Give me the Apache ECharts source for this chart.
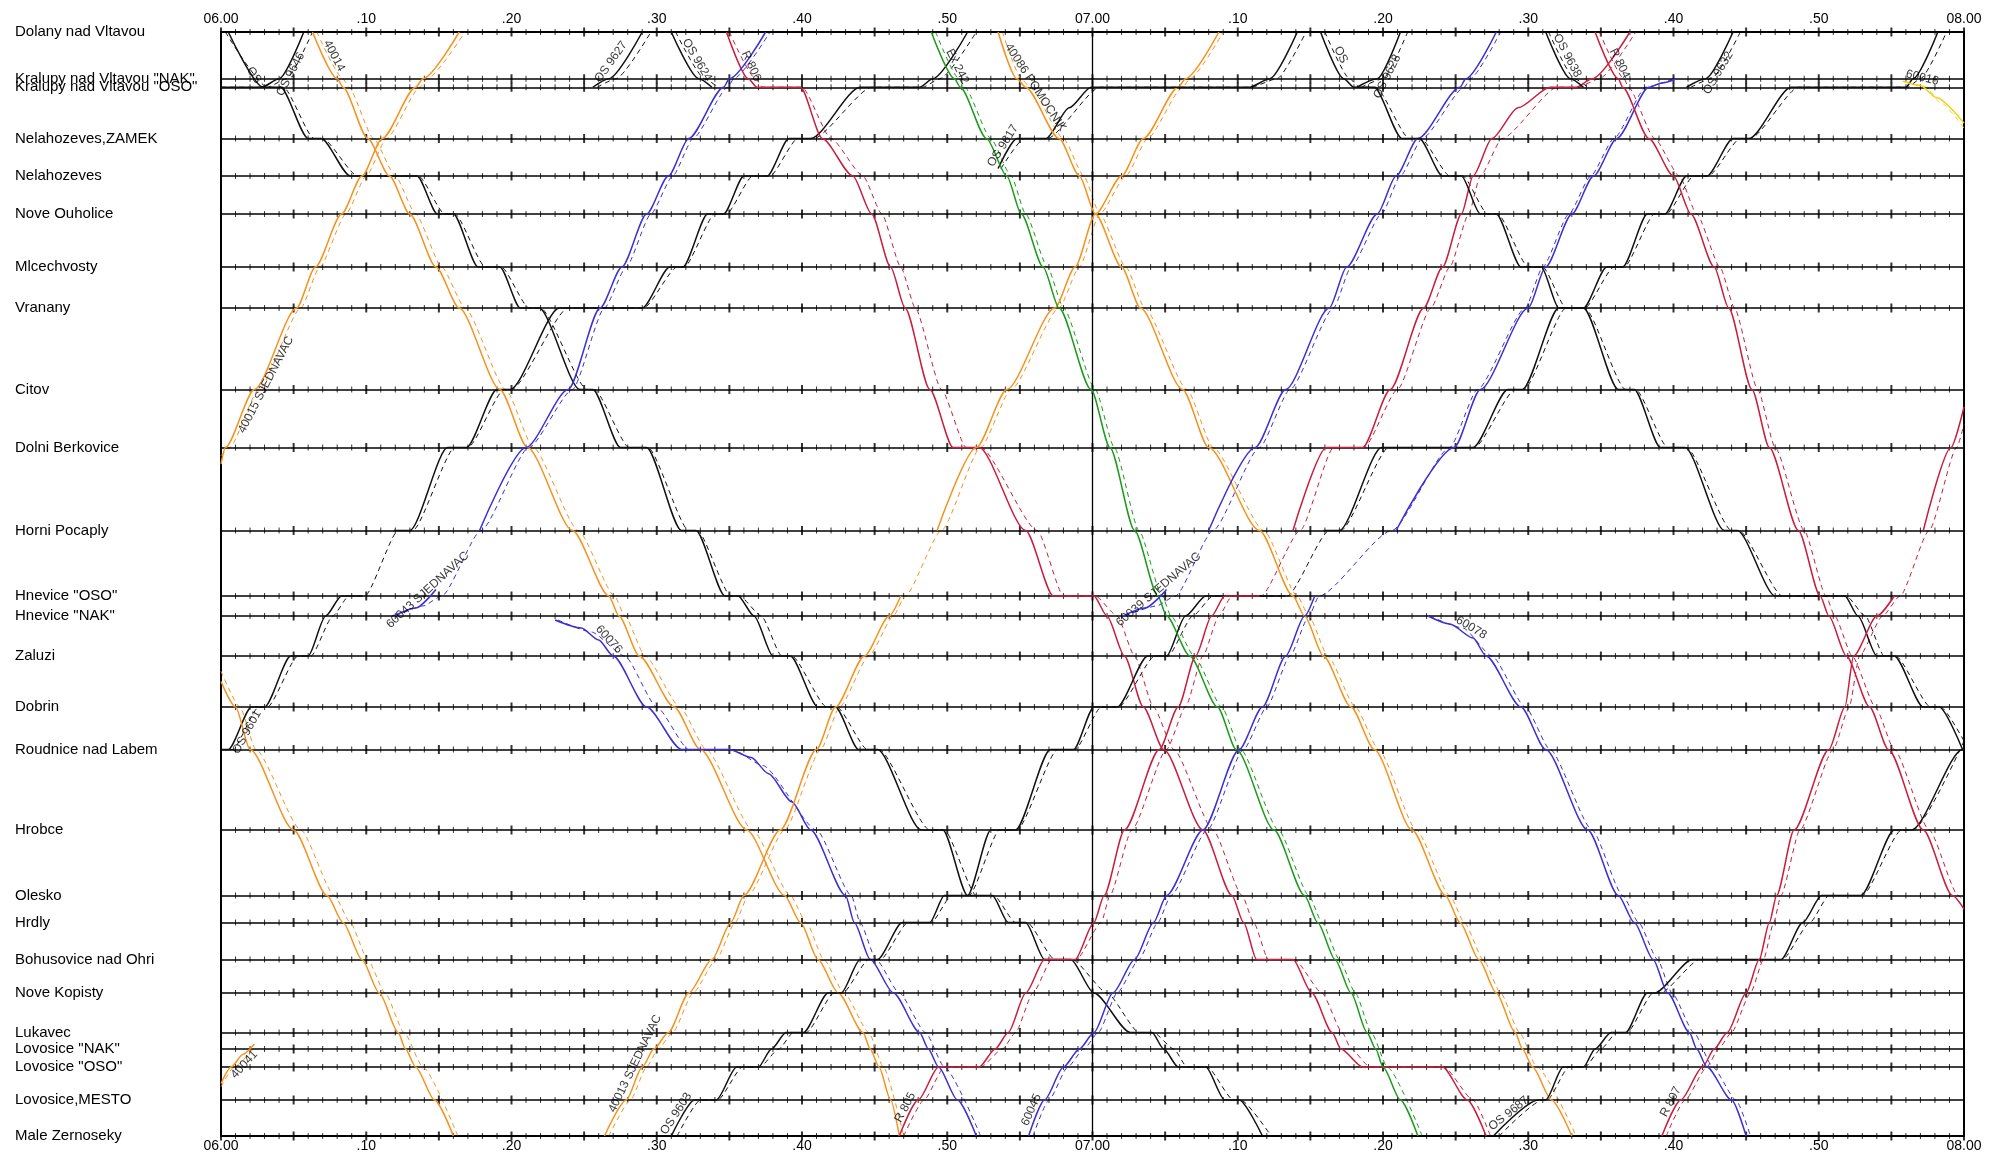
<!DOCTYPE html>
<html>
<head>
<meta charset="utf-8">
<script src="https://cdn.jsdelivr.net/npm/echarts@6/dist/echarts.min.js"></script>
<style>
  html, body { margin: 0; padding: 0; background: #fff; }
  #chart { width: 1989px; height: 1154px; }
</style>
</head>
<body>
<div id="chart"></div>
<script>
// stations top -> bottom, with their relative distance (km) along the line
var stations = ['Dolany nad Vltavou', 'Kralupy nad Vltavou "NAK"', 'Kralupy nad Vltavou "OSO"', 'Nelahozeves,ZAMEK',
  'Nelahozeves', 'Nove Ouholice', 'Mlcechvosty', 'Vranany', 'Citov', 'Dolni Berkovice', 'Horni Pocaply',
  'Hnevice "OSO"', 'Hnevice "NAK"', 'Zaluzi', 'Dobrin', 'Roudnice nad Labem', 'Hrobce', 'Olesko', 'Hrdly',
  'Bohusovice nad Ohri', 'Nove Kopisty', 'Lukavec', 'Lovosice "NAK"', 'Lovosice "OSO"', 'Lovosice,MESTO', 'Male Zernoseky'];
var stationKm = [0, 1.87, 2.21, 4.26, 5.76, 7.28, 9.4, 11.04, 14.3, 16.62, 19.94, 22.56, 23.36, 24.96, 27.0,
  28.7, 31.92, 34.54, 35.62, 37.1, 38.44, 40.02, 40.68, 41.4, 42.72, 44.16];

// minutes after 06:00
var timeTicks = [0, 10, 20, 30, 40, 50, 60, 70, 80, 90, 100, 110, 120];
var timeTickLabels = ['06.00', '.10', '.20', '.30', '.40', '.50', '07.00', '.10', '.20', '.30', '.40', '.50', '08.00'];

// trains: points are [minute, station index]; act = actual run (segments), plan = planned run
var os9600Act = [[[0.5,0],[2.9,2],[4.1,2],[6.0,3],[6.9,3],[8.9,4],[13.5,4],[14.9,5],[16.0,5],[17.7,6],[19.2,6],[20.6,7],[21.9,7],[24.7,8],[25.6,8],[27.5,9],[29.3,9],[31.7,10],[32.7,10],[34.7,11],[35.6,11],[36.7,12],[38.0,13],[39.2,13],[41.1,14],[42.3,14],[43.9,15],[45.2,15],[48.2,16],[49.7,16],[51.4,17],[53.1,17],[54.2,18],[55.4,18],[56.7,19],[58.5,19],[60.1,20],[62.6,21],[64.1,21],[64.9,22],[65.9,23],[67.8,23],[69.1,24],[70.1,24],[71.7,25]]];
var os9600Plan = [[0.3,0],[3.2,2],[4.3,2],[6.4,3],[7.0,3],[9.4,4],[13.6,4],[15.4,5],[16.1,5],[18.2,6],[19.3,6],[21.2,7],[22.0,7],[25.2,8],[25.7,8],[28.1,9],[29.4,9],[32.2,10],[32.8,10],[35.1,11],[35.7,11],[37.2,12],[38.6,13],[39.3,13],[41.7,14],[42.4,14],[44.5,15],[45.3,15],[48.8,16],[49.8,16],[52.0,17],[53.2,17],[54.7,18],[55.5,18],[57.4,19],[58.6,19],[61.0,20],[63.2,21],[64.2,21],[65.6,22],[66.5,23],[67.9,23],[69.7,24],[70.2,24],[72.3,25]];

var os9646Act = [[[0,2],[2.8,2],[4.0,1],[5.7,0]]];
var os9646Plan = [[0,2],[3.2,2],[4.5,1],[6.3,0]];

var os9601Act = [[[0,15],[0.5,15],[2.1,14],[3.0,14],[4.8,13],[6.0,13],[7.2,12],[8.3,11],[9.7,11]],
  [[11.9,10],[13.0,10],[15.6,9],[16.9,9],[19.0,8],[19.9,8],[23.3,7],[29.0,7],[30.9,6],[31.8,6],[33.5,5],[34.6,5],[36.0,4],[37.6,4],[39.1,3],[40.6,3],[44.0,2],[48.1,2],[49.0,1],[51.4,0]]];
var os9601Plan = [[0,15],[0.8,15],[2.6,14],[3.2,14],[5.3,13],[6.2,13],[7.7,12],[8.8,11],[9.9,11],[12.2,10],[13.2,10],[16.1,9],[17.0,9],[19.5,8],[20.0,8],[23.9,7],[29.1,7],[31.4,6],[31.9,6],[34.0,5],[34.8,5],[36.6,4],[37.8,4],[39.7,3],[40.8,3],[44.8,2],[48.3,2],[49.5,1],[52.0,0]];

var os9627Act = [[[25.6,2],[26.7,1],[29.0,0]]];
var os9627Plan = [[25.9,2],[27.2,1],[29.6,0]];
var os9624Act = [[[31.0,0],[32.9,1],[33.8,2]]];
var os9624Plan = [[31.3,0],[33.3,1],[34.2,2]];

var r806Act = [[[34.8,0],[36.3,1],[36.9,2],[39.9,2],[41.4,3],[43.5,4],[44.8,5],[46.1,6],[47.1,7],[48.8,8],[50.4,9],[52.2,9],[55.4,10],[57.3,11],[60.1,11],[61.0,12],[62.2,13],[63.5,14],[64.9,15],[67.6,16],[69.6,17],[70.4,18],[71.3,19],[73.8,19],[75.1,20],[76.5,21],[77.1,22],[78.6,23],[84.1,23],[85.8,24],[87.1,25]]];
var r806Plan = [[35.0,0],[36.8,1],[37.3,2],[40.0,2],[42.0,3],[44.2,4],[45.5,5],[46.8,6],[47.8,7],[49.6,8],[51.3,9],[52.3,9],[56.2,10],[58.0,11],[60.2,11],[61.7,12],[62.9,13],[64.2,14],[65.6,15],[68.3,16],[70.3,17],[71.1,18],[72.1,19],[73.9,19],[75.8,20],[77.2,21],[77.8,22],[79.1,23],[84.2,23],[86.2,24],[87.4,25]];

var n40014Act = [[[6.3,0],[8.0,1],[8.4,2],[10.1,3],[11.6,4],[13.0,5],[14.8,6],[16.4,7],[19.2,8],[21.1,9],[24.2,10],[26.7,11],[27.4,12],[28.8,13],[31.2,14],[33.0,15],[36.2,16],[38.8,17],[39.9,18],[41.1,19],[42.5,20],[44.2,21],[44.7,22],[45.3,23],[46.1,24],[46.7,25]]];
var n40014Plan = [[6.6,0],[8.4,1],[8.8,2],[10.5,3],[12.0,4],[13.4,5],[15.2,6],[16.8,7],[19.6,8],[21.5,9],[24.6,10],[27.1,11],[27.8,12],[29.2,13],[31.6,14],[33.4,15],[36.6,16],[39.2,17],[40.3,18],[41.5,19],[42.9,20],[44.6,21],[45.6,23],[47.0,25]];

var n40015Act = [[[0,9.2],[0.3,9],[2.3,8],[5.2,7],[6.5,6],[8.3,5],[9.7,4],[11.1,3],[13.4,2],[13.9,1],[16.4,0]]];
var n40015Plan = [[0,9.1],[0.6,9],[2.6,8],[5.5,7],[6.8,6],[8.6,5],[10.0,4],[11.4,3],[13.7,2],[14.2,1],[16.8,0]];

var n60043Act = [[[11.9,12],[13.4,11.6],[14.8,10.9]],
  [[17.8,10],[21.0,9],[23.9,8],[26.1,7],[27.6,6],[29.3,5],[30.8,4],[32.2,3],[34.6,2],[35.0,1],[37.5,0]]];
var n60043Plan = [[12.0,12],[13.9,11.5],[15.2,11],[17.9,10],[21.2,9],[24.2,8],[26.4,7],[27.9,6],[29.6,5],[31.1,4],[32.5,3],[34.9,2],[35.3,1],[37.8,0]];

var n60076Act = [[[23.0,12.1],[24.8,12.3],[26.0,12.6],[27.0,13],[29.3,14],[31.7,15],[35.0,15],[36.5,15.1],[37.7,15.3],[39.3,15.65],[40.6,16],[43.0,17],[43.6,18],[44.7,19],[46.3,20],[48.1,21],[48.7,22],[49.4,23],[50.7,24],[52.0,25]]];
var n60076Plan = [[23.2,12.1],[25.5,12.4],[27.8,13],[30.0,14],[32.2,15],[35.2,15],[37.3,15.2],[41.0,16],[43.4,17],[44.0,18],[45.1,19],[46.7,20],[48.5,21],[49.8,23],[52.3,25]];

var n40041Act = [[[0,23.5],[0.7,23],[1.5,22.3],[2.3,21.7]]];
var n40041Plan = [[0,23.6],[0.9,23],[2.4,21.8]];

var n40012Act = [[[0,13.5],[1.0,14],[2.0,15],[5.0,16],[7.3,17],[8.4,18],[9.7,19],[10.9,20],[12.2,21],[12.7,22],[13.4,23],[14.7,24],[16.0,25]]];
var n40012Plan = [[0,13.3],[1.3,14],[2.4,15],[5.5,16],[7.8,17],[8.9,18],[10.1,19],[11.3,20],[12.6,21],[13.9,23],[16.3,25]];

var n40013Act = [[[26.4,25],[27.9,24],[29.0,23],[29.8,22],[30.8,21],[32.2,20],[33.8,19],[35.1,18],[36.0,17],[38.5,16],[41.0,15],[42.3,14],[44.3,13],[46.0,12],[46.8,11]],
  [[49.3,10],[52.0,9],[54.1,8],[57.4,7],[58.8,6],[60.2,5],[62.0,4],[63.5,3],[65.9,2],[66.4,1],[68.7,0]]];
var n40013Plan = [[26.7,25],[28.2,24],[29.3,23],[30.1,22],[31.1,21],[32.5,20],[34.1,19],[35.4,18],[36.3,17],[38.8,16],[41.3,15],[42.6,14],[44.6,13],[46.3,12],[47.1,11],[49.6,10],[52.3,9],[54.4,8],[57.7,7],[59.1,6],[60.5,5],[62.3,4],[63.8,3],[66.2,2],[66.7,1],[69.0,0]];

var os9603Act = [[[31.0,25],[32.6,24],[34.1,24],[35.5,23],[37.0,23],[37.9,22],[38.9,21],[40.1,21],[41.8,20],[42.7,20],[44.0,19],[45.2,19],[46.9,18],[48.8,18],[49.8,17],[51.4,17],[53.0,16],[54.7,16],[57.1,15],[58.7,15],[60.1,14],[61.7,14],[63.8,13],[65.1,13],[66.4,12],[67.8,11],[73.3,11]],
  [[75.9,10],[77.0,10],[79.9,9],[86.2,9],[88.6,8],[89.6,8],[92.1,7],[93.8,7],[95.4,6],[96.5,6],[98.2,5],[99.4,5],[100.9,4],[102.3,4],[104.1,3],[105.2,3],[108.1,2],[116.0,2],[116.5,1],[118.2,0]]];
var os9603Plan = [[31.4,25],[33.0,24],[34.2,24],[35.9,23],[37.1,23],[38.4,22],[39.4,21],[40.3,21],[42.2,20],[42.8,20],[44.6,19],[45.4,19],[47.3,18],[48.9,18],[50.3,17],[51.5,17],[53.6,16],[54.8,16],[57.6,15],[58.8,15],[60.6,14],[61.8,14],[64.3,13],[65.2,13],[66.9,12],[68.3,11],[73.4,11],[76.3,10],[77.1,10],[80.4,9],[86.3,9],[89.1,8],[89.7,8],[92.6,7],[93.9,7],[95.9,6],[96.6,6],[98.7,5],[99.5,5],[101.4,4],[102.4,4],[104.6,3],[105.3,3],[108.6,2],[116.1,2],[117.0,1],[118.8,0]];

var os9617Act = [[[53.5,3.8],[54.8,3],[56.8,3],[58.4,2.4],[59.9,2],[70.8,2],[72.2,1],[74.1,0]]];
var os9617Plan = [[53.7,3.8],[55.3,3],[56.9,3],[60.5,2],[70.9,2],[72.7,1],[74.7,0]];

var ex242Act = [[[48.9,0],[50.5,1],[50.9,2],[52.7,3],[54.1,4],[55.1,5],[56.6,6],[57.7,7],[59.9,8],[61.2,9],[62.9,10],[64.5,11],[65.1,12],[66.7,13],[68.6,14],[69.9,15],[72.5,16],[74.6,17],[75.5,18],[76.7,19],[77.8,20],[78.9,21],[79.5,22],[80.0,23],[81.2,24],[82.4,25]]];
var ex242Plan = [[49.2,0],[50.8,1],[51.2,2],[53.0,3],[54.4,4],[55.4,5],[56.9,6],[58.0,7],[60.2,8],[61.5,9],[63.2,10],[64.8,11],[65.4,12],[67.0,13],[68.9,14],[70.2,15],[72.8,16],[74.9,17],[75.8,18],[77.0,19],[78.1,20],[79.2,21],[80.3,23],[82.7,25]];

var n40086Act = [[[53.5,0],[54.8,1],[55.4,2],[57.7,3],[59.1,4],[60.2,5],[62.0,6],[63.3,7],[66.2,8],[68.0,9],[71.5,10],[73.8,11],[74.6,12],[75.9,13],[77.8,14],[79.4,15],[82.0,16],[84.3,17],[85.3,18],[86.6,19],[87.8,20],[89.1,21],[89.6,22],[90.3,23],[91.6,24],[93.0,25]]];
var n40086Plan = [[53.8,0],[55.1,1],[55.7,2],[58.0,3],[59.4,4],[60.5,5],[62.3,6],[63.6,7],[66.5,8],[68.3,9],[71.8,10],[74.1,11],[74.9,12],[76.2,13],[78.1,14],[79.7,15],[82.3,16],[84.6,17],[85.6,18],[86.9,19],[88.1,20],[89.4,21],[90.6,23],[93.3,25]];

var r805Act = [[[46.7,25],[48.0,24],[49.4,23],[52.2,23],[53.3,22],[54.2,21],[55.4,20],[56.7,19],[58.8,19],[60.1,18],[60.8,17],[62.2,16],[64.6,15],[65.9,14],[67.1,13],[68.2,12],[69.1,11],[71.5,11]],
  [[73.8,10],[76.1,9],[78.6,9],[80.5,8],[82.8,7],[84.1,6],[85.4,5],[86.2,4],[87.5,3],[89.3,2.4],[91.5,2],[93.3,2],[94.4,1],[97.0,0]]];
var r805Plan = [[47.0,25],[48.4,24],[49.8,23],[52.3,23],[53.8,22],[54.7,21],[55.9,20],[57.2,19],[58.9,19],[60.6,18],[61.2,17],[62.7,16],[65.1,15],[66.4,14],[67.6,13],[68.7,12],[69.6,11],[71.6,11],[74.3,10],[76.6,9],[78.7,9],[81.0,8],[83.3,7],[84.6,6],[85.9,5],[86.7,4],[88.2,3],[92.0,2],[93.4,2],[94.9,1],[97.4,0]];

var n60045Act = [[[55.6,25],[56.7,24],[58.0,23],[59.1,22],[60.1,21],[61.4,20],[62.9,19],[64.2,18],[65.1,17],[67.6,16],[70.1,15],[71.7,14],[73.3,13],[74.6,12],[75.3,11]],
  [[80.9,10],[84.9,9],[86.7,8],[90.0,7],[91.2,6],[93.0,5],[94.5,4],[96.1,3],[98.3,2],[99.2,1.5],[100.2,1]]];
var n60045Plan = [[55.9,25],[57.0,24],[58.3,23],[59.4,22],[60.4,21],[61.7,20],[63.2,19],[64.5,18],[65.4,17],[67.9,16],[70.4,15],[72.0,14],[73.6,13],[74.9,12],[75.6,11],[80.6,10],[84.6,9],[86.5,8],[89.8,7],[91.0,6],[92.8,5],[94.3,4],[95.9,3],[98.1,2],[100.0,1]];

var n60039Act = [[[62.1,12],[63.6,11.6],[65.1,10.9]],
  [[68.0,10],[71.2,9],[73.3,8],[76.3,7],[77.5,6],[79.6,5],[80.9,4],[82.4,3],[85.3,2],[85.7,1],[87.8,0]]];
var n60039Plan = [[62.2,12],[64.4,11.5],[65.7,11],[68.3,10],[71.5,9],[73.6,8],[76.6,7],[77.8,6],[79.9,5],[81.2,4],[82.7,3],[85.6,2],[86.0,1],[88.1,0]];

var os9626Act = [[[75.7,0],[77.3,1],[78.0,2],[79.4,2],[81.3,3],[82.5,3],[84.1,4],[85.4,4],[86.7,5],[87.8,5],[89.5,6],[90.9,6],[92.1,7],[93.8,7],[96.2,8],[97.3,8],[99.1,9],[100.8,9],[103.5,10],[104.4,10],[107.0,11],[111.8,11],[112.7,12],[114.0,13],[115.2,13],[117.2,14],[118.3,14],[119.9,15]]];
var os9626Plan = [[76.0,0],[77.7,1],[78.4,2],[79.5,2],[81.8,3],[82.6,3],[84.6,4],[85.5,4],[87.2,5],[87.9,5],[90.0,6],[91.0,6],[92.6,7],[93.9,7],[96.7,8],[97.4,8],[99.6,9],[100.9,9],[104.0,10],[104.5,10],[107.5,11],[111.9,11],[113.2,12],[114.5,13],[115.3,13],[117.7,14],[118.4,14],[120,14.8]];

var os9628Act = [[[78.2,2],[79.6,1],[81.2,0]]];
var os9628Plan = [[78.5,2],[80.0,1],[81.7,0]];
var os9638Act = [[[91.2,0],[92.9,1],[93.8,2]]];
var os9638Plan = [[91.4,0],[93.2,1],[94.1,2]];
var os9632Act = [[[100.9,2],[102.2,1],[104.1,0]]];
var os9632Plan = [[101.2,2],[102.6,1],[104.6,0]];

var os9687Act = [[[87.6,25],[90.7,24],[91.2,24],[92.4,23],[93.8,23],[94.6,22],[95.7,21],[96.7,21],[98.2,20],[98.7,20],[101.3,19],[107.4,19],[108.9,18],[110.2,17],[112.9,17],[115.2,16],[116.4,16],[119.9,15],[120,15]]];
var os9687Plan = [[88.0,25],[91.0,24],[91.3,24],[92.8,23],[93.9,23],[95.0,22],[96.1,21],[96.8,21],[98.6,20],[99.1,20],[101.8,19],[107.5,19],[109.4,18],[110.7,17],[113.0,17],[115.7,16],[116.5,16],[120,14.8]];

var r804Act = [[[94.6,0],[96.2,1],[96.5,2],[98.3,3],[100.0,4],[101.2,5],[102.8,6],[103.8,7],[105.4,8],[106.6,9],[108.6,10],[110.1,11],[110.7,12],[111.9,13],[113.5,14],[114.8,15],[117.2,16],[119.2,17],[120,17.5]]];
var r804Plan = [[94.9,0],[96.6,1],[96.9,2],[98.7,3],[100.4,4],[101.6,5],[103.2,6],[104.2,7],[105.8,8],[107.0,9],[109.0,10],[110.5,11],[111.1,12],[112.3,13],[113.9,14],[115.2,15],[117.6,16],[119.6,17],[120,17.2]];

var r807Act = [[[99.2,25],[100.5,24],[102.0,23],[102.8,22],[103.7,21],[105.0,20],[105.9,19],[106.6,18],[107.1,17],[108.3,16],[110.7,15],[111.8,14],[112.4,13],[114.0,12],[115.2,11]],
  [[117.2,10],[119.1,9],[120,8.3]]];
var r807Plan = [[99.5,25],[100.8,24],[102.3,23],[103.1,22],[104.0,21],[105.3,20],[106.2,19],[106.9,18],[107.4,17],[108.7,16],[111.0,15],[112.1,14],[112.8,13],[114.4,12],[115.6,11],[117.6,10],[119.5,9],[120,8.6]];

var n60016Act = [[[115.8,1.3],[117.0,1.8],[118.1,2.2],[120,2.7]]];
var n60016Plan = [[116.0,1.3],[117.3,1.9],[118.4,2.3],[120,2.8]];

var n60078Act = [[[83.1,12],[84.6,12.2],[86.2,12.55],[87.1,13],[89.5,14],[91.2,15],[94.1,16],[96.2,17],[97.3,18],[98.6,19],[99.6,20],[101.1,21],[101.6,22],[102.3,23],[104.0,24],[105.0,25]]];
var n60078Plan = [[83.2,12],[85.5,12.3],[87.5,13],[89.8,14],[91.5,15],[94.4,16],[96.5,17],[97.6,18],[98.9,19],[99.9,20],[101.4,21],[102.7,23],[104.3,24],[105.3,25]];

var colors = { black: '#111111', orange: '#f5921e', blue: '#3b2fd3', red: '#c81e3c', green: '#1c9a1c', yellow: '#f0d21c' };

// train table: label text, colour, data, time of label anchor, flip = label on other side
var trains = [
  { text: 'OS', color: 'black', act: os9600Act, plan: os9600Plan, at: 1.8 },
  { text: 'OS 9646', color: 'black', act: os9646Act, plan: os9646Plan, at: 4.3 },
  { text: 'OS 9601', color: 'black', act: os9601Act, plan: os9601Plan, at: 1.3 },
  { text: 'OS 9627', color: 'black', act: os9627Act, plan: os9627Plan, at: 27.3, flip: true },
  { text: 'OS 9624', color: 'black', act: os9624Act, plan: os9624Plan, at: 32.3 },
  { text: 'R 806', color: 'red', act: r806Act, plan: r806Plan, at: 36.0 },
  { text: '40014', color: 'orange', act: n40014Act, plan: n40014Plan, at: 7.3 },
  { text: '40015 SJEDNAVAC', color: 'orange', act: n40015Act, plan: n40015Plan, at: 2.6 },
  { text: '60043 SJEDNAVAC', color: 'blue', act: n60043Act, plan: n60043Plan, at: 14.6, flip: true },
  { text: '60076', color: 'blue', act: n60076Act, plan: n60076Plan, at: 26.3 },
  { text: '40041', color: 'orange', act: n40041Act, plan: n40041Plan, at: 1.2 },
  { text: '', color: 'orange', act: n40012Act, plan: n40012Plan },
  { text: '40013 SJEDNAVAC', color: 'orange', act: n40013Act, plan: n40013Plan, at: 29.0, flip: true },
  { text: 'OS 9603', color: 'black', act: os9603Act, plan: os9603Plan, at: 31.8, flip: true },
  { text: 'OS 9617', color: 'black', act: os9617Act, plan: os9617Plan, at: 54.3, flip: true },
  { text: 'Ex 242', color: 'green', act: ex242Act, plan: ex242Plan, at: 50.2 },
  { text: '40086 POMOCNIK', color: 'orange', act: n40086Act, plan: n40086Plan, at: 55.6 },
  { text: 'R 805', color: 'red', act: r805Act, plan: r805Plan, at: 47.6, flip: true },
  { text: '60045', color: 'blue', act: n60045Act, plan: n60045Plan, at: 56.3, flip: true },
  { text: '60039 SJEDNAVAC', color: 'blue', act: n60039Act, plan: n60039Plan, at: 64.9, flip: true },
  { text: 'OS', color: 'black', act: os9626Act, plan: os9626Plan, at: 76.6 },
  { text: 'OS 9628', color: 'black', act: os9628Act, plan: os9628Plan, at: 79.8 },
  { text: 'OS 9638', color: 'black', act: os9638Act, plan: os9638Plan, at: 92.2 },
  { text: 'OS 9632', color: 'black', act: os9632Act, plan: os9632Plan, at: 102.6 },
  { text: 'OS 9687', color: 'black', act: os9687Act, plan: os9687Plan, at: 89.0, flip: true },
  { text: 'R 804', color: 'red', act: r804Act, plan: r804Plan, at: 95.8 },
  { text: 'R 807', color: 'red', act: r807Act, plan: r807Plan, at: 100.3, flip: true },
  { text: '60016', color: 'yellow', act: n60016Act, plan: n60016Plan, at: 117.0 },
  { text: '60078', color: 'blue', act: n60078Act, plan: n60078Plan, at: 85.8 }
];

function km(idx) {
  var i = Math.floor(idx), f = idx - i;
  if (i >= stationKm.length - 1) return stationKm[stationKm.length - 1];
  return stationKm[i] + f * (stationKm[i + 1] - stationKm[i]);
}
function toKm(pts) {
  return pts.map(function (p) { return [p[0], km(p[1])]; });
}
function timeLabel(v) {
  var i = timeTicks.indexOf(Math.round(v));
  return i >= 0 ? timeTickLabels[i] : '';
}

var chart = echarts.init(document.getElementById('chart'));
var font = 'Liberation Sans, Arial, sans-serif';

// minute ticks along each station line
var tickData = [];
stationKm.forEach(function (k) {
  for (var m = 0; m <= 120; m++) tickData.push([m, k]);
});

var series = [{
  type: 'line',
  data: [[0, 0]],
  showSymbol: false,
  lineStyle: { width: 0 },
  silent: true,
  markLine: {
    silent: true,
    symbol: ['none', 'none'],
    label: { show: false },
    lineStyle: { color: '#000', width: 1.6, type: 'solid' },
    data: stationKm.map(function (k) { return { yAxis: k }; })
      .concat([{ xAxis: 60, lineStyle: { color: '#000', width: 1.3, type: 'solid' } }])
  }
}, {
  type: 'scatter',
  data: tickData,
  symbol: 'rect',
  symbolSize: function (v) { return v[0] % 5 === 0 ? [2, 9] : [1, 6]; },
  itemStyle: { color: '#000' },
  silent: true,
  z: 3
}];

trains.forEach(function (tr) {
  var c = colors[tr.color];
  tr.act.forEach(function (seg) {
    series.push({
      type: 'line', data: toKm(seg), showSymbol: false, smooth: 0.25, smoothMonotone: 'x',
      lineStyle: { color: c, width: 1.5 }, silent: true, z: 5
    });
  });
  series.push({
    type: 'line', data: toKm(tr.plan), showSymbol: false, smooth: 0.2, smoothMonotone: 'x',
    lineStyle: { color: c, width: 1, type: [5, 4] }, silent: true, z: 4
  });
});

var option = {
  animation: false,
  backgroundColor: '#fff',
  grid: { left: 221, right: 25, top: 32, bottom: 18, show: true, borderColor: '#000', borderWidth: 2 },
  xAxis: [{
    type: 'value', position: 'top', min: 0, max: 120, interval: 10,
    axisLine: { show: false }, axisTick: { show: false }, splitLine: { show: false },
    axisLabel: { formatter: timeLabel, color: '#000', fontFamily: font, fontSize: 14, margin: 6 }
  }, {
    type: 'value', position: 'bottom', min: 0, max: 120, interval: 10,
    axisLine: { show: false }, axisTick: { show: false }, splitLine: { show: false },
    axisLabel: { formatter: timeLabel, color: '#000', fontFamily: font, fontSize: 14, margin: 3 }
  }],
  yAxis: {
    type: 'value', inverse: true, min: 0, max: stationKm[stationKm.length - 1],
    axisLine: { show: false }, axisTick: { show: false }, splitLine: { show: false },
    axisLabel: {
      customValues: stationKm,
      formatter: function (v) {
        var best = 0;
        stationKm.forEach(function (k, i) { if (Math.abs(k - v) < Math.abs(stationKm[best] - v)) best = i; });
        return stations[best];
      },
      align: 'left', margin: 206, color: '#000', fontFamily: font, fontSize: 15
    }
  },
  series: series
};
chart.setOption(option);

// train labels, rotated along the line at the anchor time
function locate(segs, t) {
  for (var s = 0; s < segs.length; s++) {
    var seg = segs[s];
    for (var i = 0; i < seg.length - 1; i++) {
      var a = seg[i], b = seg[i + 1];
      if (a[0] <= t && t <= b[0]) {
        var f = (t - a[0]) / (b[0] - a[0]);
        var idx = a[1] + f * (b[1] - a[1]);
        var j = i;
        while (j < seg.length - 1 && seg[j][1] === seg[j + 1][1]) j++;
        if (j >= seg.length - 1) { j = i; while (j > 0 && seg[j][1] === seg[j + 1][1]) j--; }
        return { t: t, idx: idx, p: seg[j], q: seg[j + 1] };
      }
    }
  }
  return null;
}

var labelItems = [];
trains.forEach(function (tr) {
  if (!tr.text) return;
  var hit = locate(tr.act, tr.at);
  if (!hit) return;
  var pa = chart.convertToPixel({ seriesIndex: 2 }, [hit.p[0], km(hit.p[1])]);
  var pb = chart.convertToPixel({ seriesIndex: 2 }, [hit.q[0], km(hit.q[1])]);
  var ang = Math.atan2(-(pb[1] - pa[1]), pb[0] - pa[0]) * 180 / Math.PI;
  var va = ang > 0 ? 'top' : 'bottom';
  if (tr.flip) va = va === 'top' ? 'bottom' : 'top';
  labelItems.push({
    name: tr.text,
    value: [hit.t, km(hit.idx)],
    label: { rotate: ang, verticalAlign: va, align: 'center', padding: [2, 0, 2, 0] }
  });
});

option.series.push({
  type: 'scatter',
  data: labelItems,
  symbolSize: 2,
  itemStyle: { color: 'rgba(0,0,0,0)' },
  silent: true,
  z: 10,
  label: { show: true, position: 'inside', formatter: '{b}', color: '#000', fontFamily: font, fontSize: 12 },
  labelLayout: { hideOverlap: false }
});
chart.setOption(option, true);
</script>
</body>
</html>
